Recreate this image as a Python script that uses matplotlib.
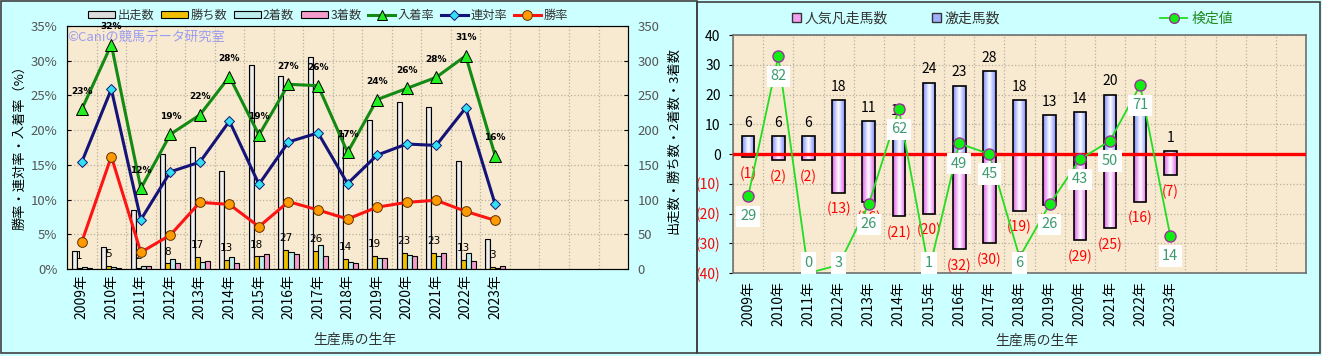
import numpy as np
import matplotlib.pyplot as plt
from matplotlib.patches import Rectangle, Patch
from matplotlib.lines import Line2D
from matplotlib.colors import LinearSegmentedColormap

plt.rcParams['font.family'] = ['Noto Sans CJK JP', 'DejaVu Sans']

# ---- data ----
years = ['2009年', '2010年', '2011年', '2012年', '2013年', '2014年', '2015年',
         '2016年', '2017年', '2018年', '2019年', '2020年', '2021年', '2022年', '2023年']

runners = [26, 31, 85, 165, 176, 141, 294, 278, 306, 196, 214, 240, 233, 156, 43]
wins = [1, 5, 2, 8, 17, 13, 18, 27, 26, 14, 19, 23, 23, 13, 3]
seconds = [3, 3, 4, 15, 10, 17, 18, 24, 34, 10, 16, 20, 18, 23, 1]
thirds = [2, 2, 4, 9, 12, 9, 21, 21, 19, 8, 16, 18, 23, 12, 4]

place_rate = [23.0, 32.3, 11.6, 19.4, 22.2, 27.7, 19.3, 26.6, 26.4, 16.8, 24.4, 26.0, 27.6, 30.7, 16.3]
quin_rate = [15.4, 25.9, 7.1, 14.0, 15.4, 21.3, 12.2, 18.3, 19.6, 12.3, 16.4, 18.0, 17.8, 23.2, 9.3]
win_rate = [3.9, 16.2, 2.4, 4.9, 9.6, 9.3, 6.1, 9.7, 8.5, 7.2, 8.9, 9.6, 9.9, 8.3, 7.0]

surge = [6, 6, 6, 18, 11, 10, 24, 23, 28, 18, 13, 14, 20, 13, 1]
flop = [1, 2, 2, 13, 16, 21, 20, 32, 30, 19, 17, 29, 25, 16, 7]
test_val = [29, 82, 0, 3, 26, 62, 1, 49, 45, 6, 26, 43, 50, 71, 14]

n_slots = 19
x = np.arange(len(years))

BG = '#ccffff'
PLOT_BG = '#f8ead0'
GRID = '#b8b0a0'


def shade_bars(ax, bars, cmap):
    # cylinder-like shading: colour at the edges, white in the middle
    grad = np.abs(np.linspace(-1, 1, 64))[None, :]
    for b in bars:
        x0, y0 = b.get_x(), b.get_y()
        w, h = b.get_width(), b.get_height()
        im = ax.imshow(grad, extent=(x0, x0 + w, y0, y0 + h), aspect='auto',
                       cmap=cmap, vmin=0, vmax=1, interpolation='bilinear',
                       zorder=b.get_zorder() - 0.1)
        im.set_clip_path(b)
        b.set_facecolor('none')


fig = plt.figure(figsize=(13.22, 3.56), dpi=100, facecolor=BG)

# panel borders
fig.patches.append(Rectangle((0.0008, 0.008), 0.5265, 0.99, transform=fig.transFigure,
                             fill=False, ec='#404040', lw=1.2))
fig.patches.append(Rectangle((0.5273, 0.008), 0.4712, 0.985, transform=fig.transFigure,
                             fill=False, ec='#404040', lw=1.2))

# ================= left chart =================
ax = fig.add_axes([0.0507, 0.2444, 0.4244, 0.6826])
ax.set_facecolor(PLOT_BG)
w = 0.17
grey_cmap = LinearSegmentedColormap.from_list('g', ['#ffffff', '#a8a8a8'])
b_run = ax.bar(x - 1.5 * w, runners, w, color='#eeeeee', ec='black', lw=0.8, zorder=2)
shade_bars(ax, b_run, grey_cmap)
ax.bar(x - 0.5 * w, wins, w, color='#f0c000', ec='black', lw=0.8, zorder=2)
ax.bar(x + 0.5 * w, seconds, w, color='#bdeeee', ec='black', lw=0.8, zorder=2)
ax.bar(x + 1.5 * w, thirds, w, color='#f49ccc', ec='black', lw=0.8, zorder=2)
for xi, v in zip(x, wins):
    ax.annotate(str(v), (xi - 0.5 * w, v), xytext=(0, 8.5), textcoords='offset points',
                ha='center', va='center', fontsize=7.5, family='DejaVu Sans', zorder=5)

ax.set_xlim(-0.5, n_slots - 0.5)
ax.set_ylim(0, 350)
ax.set_yticks(np.arange(0, 351, 50))
ax.set_xticks(x)
ax.set_xticklabels(years, rotation=90, fontsize=10)
ax.set_xticks(np.arange(-0.5, n_slots, 1), minor=True)
ax.grid(True, axis='y', ls=':', color=GRID, lw=0.9)
ax.grid(True, axis='x', which='minor', ls=':', color=GRID, lw=0.9)
ax.set_axisbelow(True)
for s in ax.spines.values():
    s.set_color('#606060')

ax2 = ax.twinx()
# twinx moves the host ticks to the left, so swap them back
ax.yaxis.tick_right()
ax2.yaxis.tick_left()
ax.tick_params(axis='x', which='both', length=0, pad=4)
ax.tick_params(axis='y', labelsize=9.5, labelcolor='#555555', length=3, direction='in', pad=7)

ax2.plot(x, place_rate, color='#138a13', lw=2.2, marker='^', ms=8, mfc='#22ee22',
         mec='black', mew=0.7, zorder=3)
ax2.plot(x, quin_rate, color='#141478', lw=2.2, marker='D', ms=5, mfc='#33e0f0',
         mec='#141478', mew=0.7, zorder=3)
ax2.plot(x, win_rate, color='#ff1414', lw=2.2, marker='o', ms=7, mfc='#ff9a00',
         mec='#603000', mew=0.7, zorder=3)
for xi, v in zip(x, place_rate):
    ax2.annotate(f'{v:.0f}%', (xi, v), xytext=(0, 13), textcoords='offset points',
                 ha='center', va='center', fontsize=6.5, fontweight='bold',
                 family='DejaVu Sans', zorder=5)
ax2.set_ylim(0, 35)
ax2.set_yticks(np.arange(0, 36, 5))
ax2.set_yticklabels([f'{v}%' for v in range(0, 36, 5)])
ax2.tick_params(axis='y', labelsize=9.5, labelcolor='#555555', length=3, direction='in', pad=7)
ax2.text(0.0, 0.955, '©Caniの競馬データ研究室', transform=ax2.transAxes, color='#9a9cf0',
         fontsize=9.5, va='center', ha='left', zorder=1)

fig.text(20 / 1322, 0.595, '勝率・連対率・入着率（%）', rotation=90, ha='center', va='center',
         fontsize=9.5)
fig.text(674 / 1322, 0.605, '出走数・勝ち数・2着数・3着数', rotation=90, ha='center', va='center',
         fontsize=9.5)
fig.text(355 / 1322, 1 - 340 / 356, '生産馬の生年', ha='center', va='center', fontsize=10,
         color='#333333')

left_handles = [
    Patch(fc='#dddddd', ec='black', lw=0.8, label='出走数'),
    Patch(fc='#f0c000', ec='black', lw=0.8, label='勝ち数'),
    Patch(fc='#bdeeee', ec='black', lw=0.8, label='2着数'),
    Patch(fc='#f49ccc', ec='black', lw=0.8, label='3着数'),
    Line2D([], [], color='#138a13', lw=2.2, marker='^', ms=7, mfc='#22ee22', mec='black',
           mew=0.7, label='入着率'),
    Line2D([], [], color='#141478', lw=2.2, marker='D', ms=5, mfc='#33e0f0', mec='#141478',
           mew=0.7, label='連対率'),
    Line2D([], [], color='#ff1414', lw=2.2, marker='o', ms=7, mfc='#ff9a00', mec='#603000',
           mew=0.7, label='勝率'),
]
fig.legend(handles=left_handles, loc='center', bbox_to_anchor=(0.248, 0.957), ncol=7,
           frameon=False, fontsize=8.8, handlelength=2.2, handleheight=0.45,
           columnspacing=0.55, handletextpad=0.2, labelcolor='#333333')

# ================= right chart =================
axr = fig.add_axes([0.5545, 0.2331, 0.4334, 0.6685])
axr.set_facecolor(PLOT_BG)
bw = 0.42
neg = [-v for v in flop]
b_flop = axr.bar(x, neg, bw, color='#f4a0f0', ec='black', lw=1.2, zorder=2)
b_surge = axr.bar(x, surge, bw, color='#a0b0ff', ec='black', lw=1.2, zorder=2)
shade_bars(axr, b_flop, LinearSegmentedColormap.from_list('p', ['#ffffff', '#e060e8']))
shade_bars(axr, b_surge, LinearSegmentedColormap.from_list('b', ['#ffffff', '#7c8cff']))
axr.axhline(0, color='#ff0000', lw=2.4, zorder=3)
for xi, v in zip(x, surge):
    axr.annotate(str(v), (xi, v), xytext=(0, 9.5), textcoords='offset points',
                 ha='center', va='center', fontsize=10, zorder=4)
for xi, v in zip(x, flop):
    axr.annotate(f'({v})', (xi, -v), xytext=(0, -12), textcoords='offset points',
                 ha='center', va='center', fontsize=10, color='#ff0000', zorder=4)

axr.set_xlim(-0.5, n_slots - 0.5)
axr.set_ylim(-40, 40)
yt = np.arange(-40, 41, 10)
axr.set_yticks(yt)
axr.set_yticklabels([f'({-v})' if v < 0 else str(v) for v in yt])
for lab, v in zip(axr.get_yticklabels(), yt):
    lab.set_color('#ff0000' if v < 0 else 'black')
axr.set_xticks(x)
axr.set_xticklabels(years, rotation=90, fontsize=10)
axr.set_xticks(np.arange(-0.5, n_slots, 1), minor=True)
axr.tick_params(axis='x', which='both', length=0, pad=6)
axr.tick_params(axis='y', labelsize=10, length=3, pad=6)
axr.grid(True, axis='y', ls=':', color=GRID, lw=0.9)
axr.grid(True, axis='x', which='minor', ls=':', color=GRID, lw=0.9)
axr.set_axisbelow(True)
for s in axr.spines.values():
    s.set_color('#707070')
    s.set_linewidth(1.2)

axt = axr.twinx()
axt.set_ylim(0, 90)
axt.set_yticks([])
axt.plot(x, test_val, color='#22dd22', lw=1.3, zorder=2)
axt.plot(x, test_val, ls='none', marker='o', ms=8, mfc='#11ee11', mec='#993399',
         mew=1.0, zorder=3)
for xi, v in zip(x, test_val):
    ly = max(v - 7.6, 3.8)
    axt.text(xi, ly, str(v), ha='center', va='center', fontsize=10.5, color='#3c9a6e',
             bbox=dict(boxstyle='square,pad=0.25', fc='white', ec='none'), zorder=4)
for s in axt.spines.values():
    s.set_visible(False)

fig.text(1037 / 1322, 1 - 341 / 356, '生産馬の生年', ha='center', va='center', fontsize=10,
         color='#333333')

right_handles = [
    Patch(fc='#f4a0f0', ec='#333333', lw=1.0, label='人気凡走馬数'),
    Patch(fc='#a0b0ff', ec='#333333', lw=1.0, label='激走馬数'),
]
fig.legend(handles=right_handles, loc='center', bbox_to_anchor=(0.678, 0.948), ncol=2,
           frameon=False, fontsize=10, handlelength=0.6, handleheight=0.6,
           columnspacing=3.2, handletextpad=0.3, labelcolor='#333333')
fig.legend(handles=[Line2D([], [], color='#22dd22', lw=1.3, marker='o', ms=7, mfc='#11ee11',
                           mec='#993399', label='検定値')],
           loc='center', bbox_to_anchor=(0.905, 0.948), frameon=False, fontsize=10,
           handlelength=2.0, handletextpad=0.3, labelcolor='#228b22')

fig.savefig('out.png', dpi=100, facecolor=fig.get_facecolor())
